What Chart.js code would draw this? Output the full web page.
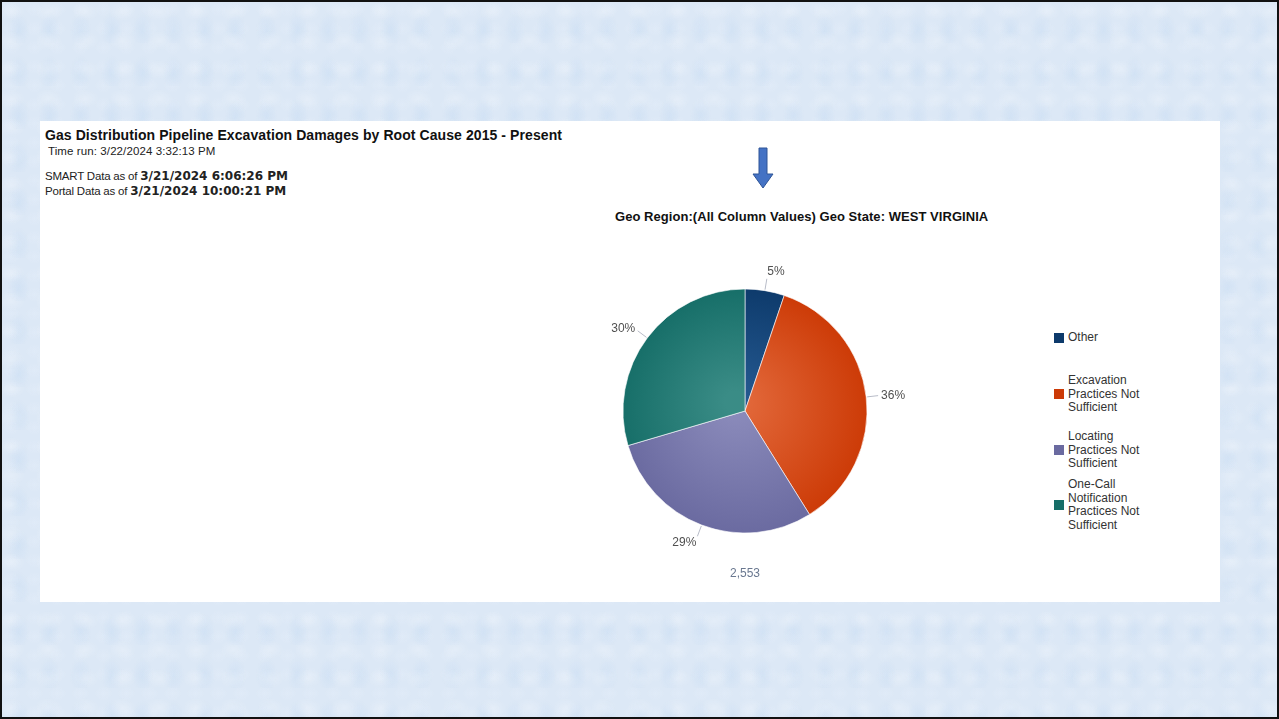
<!DOCTYPE html>
<html>
<head>
<meta charset="utf-8">
<script src="https://cdn.jsdelivr.net/npm/chart.js@4.4.1/dist/chart.umd.min.js"></script>
<style>
  html, body { margin: 0; padding: 0; }
  body {
    width: 1279px; height: 719px; position: relative; overflow: hidden;
    background-color: #dce8f6;
    background-image:
      radial-gradient(ellipse at 30% 40%, rgba(255,255,255,0.22) 0, rgba(255,255,255,0) 14px),
      radial-gradient(ellipse at 60% 70%, rgba(175,205,238,0.22) 0, rgba(175,205,238,0) 11px),
      radial-gradient(ellipse at 50% 50%, rgba(235,242,252,0.25) 0, rgba(235,242,252,0) 9px);
    background-size: 37px 29px, 31px 43px, 23px 19px;
    font-family: Tahoma, "DejaVu Sans", sans-serif;
  }
  .frame { position: absolute; left: 0; top: 0; width: 1275px; height: 715px; border: 2px solid #111; }
  .panel { position: absolute; left: 40px; top: 121px; width: 1180px; height: 481px; background: #fff; }
  .title { position: absolute; left: 5px; top: 6px; font: bold 14px "Liberation Sans", Arial, sans-serif; color: #111; white-space: nowrap; letter-spacing: 0.08px; }
  .small { position: absolute; font: 11.5px "Liberation Sans", Arial, sans-serif; color: #222; white-space: nowrap; letter-spacing: -0.2px; }
  .small b { font: bold 12px "DejaVu Sans", sans-serif; letter-spacing: 0; }
  .sub { position: absolute; left: 575px; top: 88px; font: bold 13px "Liberation Sans", Arial, sans-serif; color: #111; white-space: nowrap; letter-spacing: 0.05px; }
  .arrow { position: absolute; left: 752px; top: 147px; }
  #chartWrap { position: absolute; left: 525px; top: 240px; width: 440px; height: 350px; }
  .legend { position: absolute; left: 1054px; top: 0; font: 12px "Liberation Sans", Arial, sans-serif; color: #333; }
  .legend .item { position: absolute; left: 0; display: flex; align-items: center; white-space: nowrap; }
  .legend .sw { width: 10px; height: 10px; margin-right: 4px; flex: none; }
  .legend .txt { line-height: 13.5px; }
</style>
</head>
<body>
<div class="frame"></div>
<div class="panel">
  <div class="title">Gas Distribution Pipeline Excavation Damages by Root Cause 2015 - Present</div>
  <div class="small" style="left:8px;top:24px;letter-spacing:0.1px;">Time run: 3/22/2024 3:32:13 PM</div>
  <div class="small" style="left:5px;top:48px;">SMART Data as of <b>3/21/2024 6:06:26 PM</b></div>
  <div class="small" style="left:5px;top:63px;">Portal Data as of <b>3/21/2024 10:00:21 PM</b></div>
  <div class="sub">Geo Region:(All Column Values) Geo State: WEST VIRGINIA</div>
</div>
<svg class="arrow" width="22" height="42" viewBox="0 0 22 42">
  <path d="M7 1 H15 V27 H21 L11 41 L1 27 H7 Z" fill="#4472c4" stroke="#2f5597" stroke-width="1"/>
</svg>
<div id="chartWrap"><canvas id="pie"></canvas></div>
<div class="legend" id="legend"></div>

<script>
'use strict';

// root cause categories, clockwise from 12 o'clock
var categories = ['Other', 'Excavation Practices Not Sufficient', 'Locating Practices Not Sufficient', 'One-Call Notification Practices Not Sufficient'];
var legendLines = [['Other'], ['Excavation', 'Practices Not', 'Sufficient'], ['Locating', 'Practices Not', 'Sufficient'], ['One-Call', 'Notification', 'Practices Not', 'Sufficient']];
var damages = [133, 917, 748, 755];
var colors = ['#0d3a6b', '#cc3a06', '#6a6aa0', '#166e68'];
var lightColors = ['#24588f', '#e2683a', '#8b8bbb', '#3a8c86'];
var legendTops = [331, 374, 430, 478];

function shade(ctx, i) {
    var chart = ctx.chart;
    var area = chart.chartArea;
    if (!area) return colors[i];
    var cx = (area.left + area.right) / 2, cy = (area.top + area.bottom) / 2;
    var g = chart.ctx.createRadialGradient(cx - 10, cy - 10, 10, cx, cy, 125);
    g.addColorStop(0, lightColors[i]);
    g.addColorStop(1, colors[i]);
    return g;
}

var labelPlugin = {
    id: 'pctLabels',
    afterDatasetsDraw: function(chart) {
        var c = chart.ctx;
        var meta = chart.getDatasetMeta(0);
        var data = chart.data.datasets[0].data;
        var total = data.reduce(function(a, b) { return a + b; }, 0);
        c.save();
        c.font = '12px "Liberation Sans", Arial, sans-serif';
        c.textBaseline = 'middle';
        meta.data.forEach(function(arc, i) {
            var mid = (arc.startAngle + arc.endAngle) / 2;
            var r = arc.outerRadius;
            var cos = Math.cos(mid), sin = Math.sin(mid);
            c.strokeStyle = '#b8bcc8';
            c.lineWidth = 1;
            c.beginPath();
            c.moveTo(arc.x + cos * (r + 1), arc.y + sin * (r + 1));
            c.lineTo(arc.x + cos * (r + 12), arc.y + sin * (r + 12));
            c.stroke();
            var lx = arc.x + cos * (r + 15), ly = arc.y + sin * (r + 15);
            var txt = Math.round(data[i] / total * 100) + '%';
            c.fillStyle = '#505050';
            c.textAlign = cos > 0.15 ? 'left' : (cos < -0.15 ? 'right' : 'center');
            if (Math.abs(cos) <= 0.15 || Math.abs(sin) > 0.8) ly += sin * 4;
            c.fillText(txt, lx, ly);
        });
        // total under the pie
        var a0 = meta.data[0];
        c.fillStyle = '#6a7890';
        c.textAlign = 'center';
        c.fillText(total.toLocaleString('en-US'), a0.x, a0.y + a0.outerRadius + 41);
        c.restore();
    }
};

new Chart(document.getElementById('pie'), {
    type: 'pie',
    data: {
        labels: categories,
        datasets: [{
            data: damages,
            backgroundColor: function(ctx) { return shade(ctx, ctx.dataIndex); },
            borderColor: 'rgba(255,255,255,0.6)',
            borderWidth: 1,
            radius: 122
        }]
    },
    options: {
        responsive: true,
        maintainAspectRatio: false,
        animation: false,
        layout: { padding: { top: 49, bottom: 57, left: 0, right: 0 } },
        plugins: { legend: { display: false }, tooltip: { enabled: false } }
    },
    plugins: [labelPlugin]
});

var legendEl = document.getElementById('legend');
legendLines.forEach(function(lines, i) {
    var item = document.createElement('div');
    item.className = 'item';
    item.style.top = legendTops[i] + 'px';
    item.innerHTML = '<span class="sw" style="background:' + colors[i] + '"></span><span class="txt">' + lines.join('<br>') + '</span>';
    legendEl.appendChild(item);
});
</script>
</body>
</html>
